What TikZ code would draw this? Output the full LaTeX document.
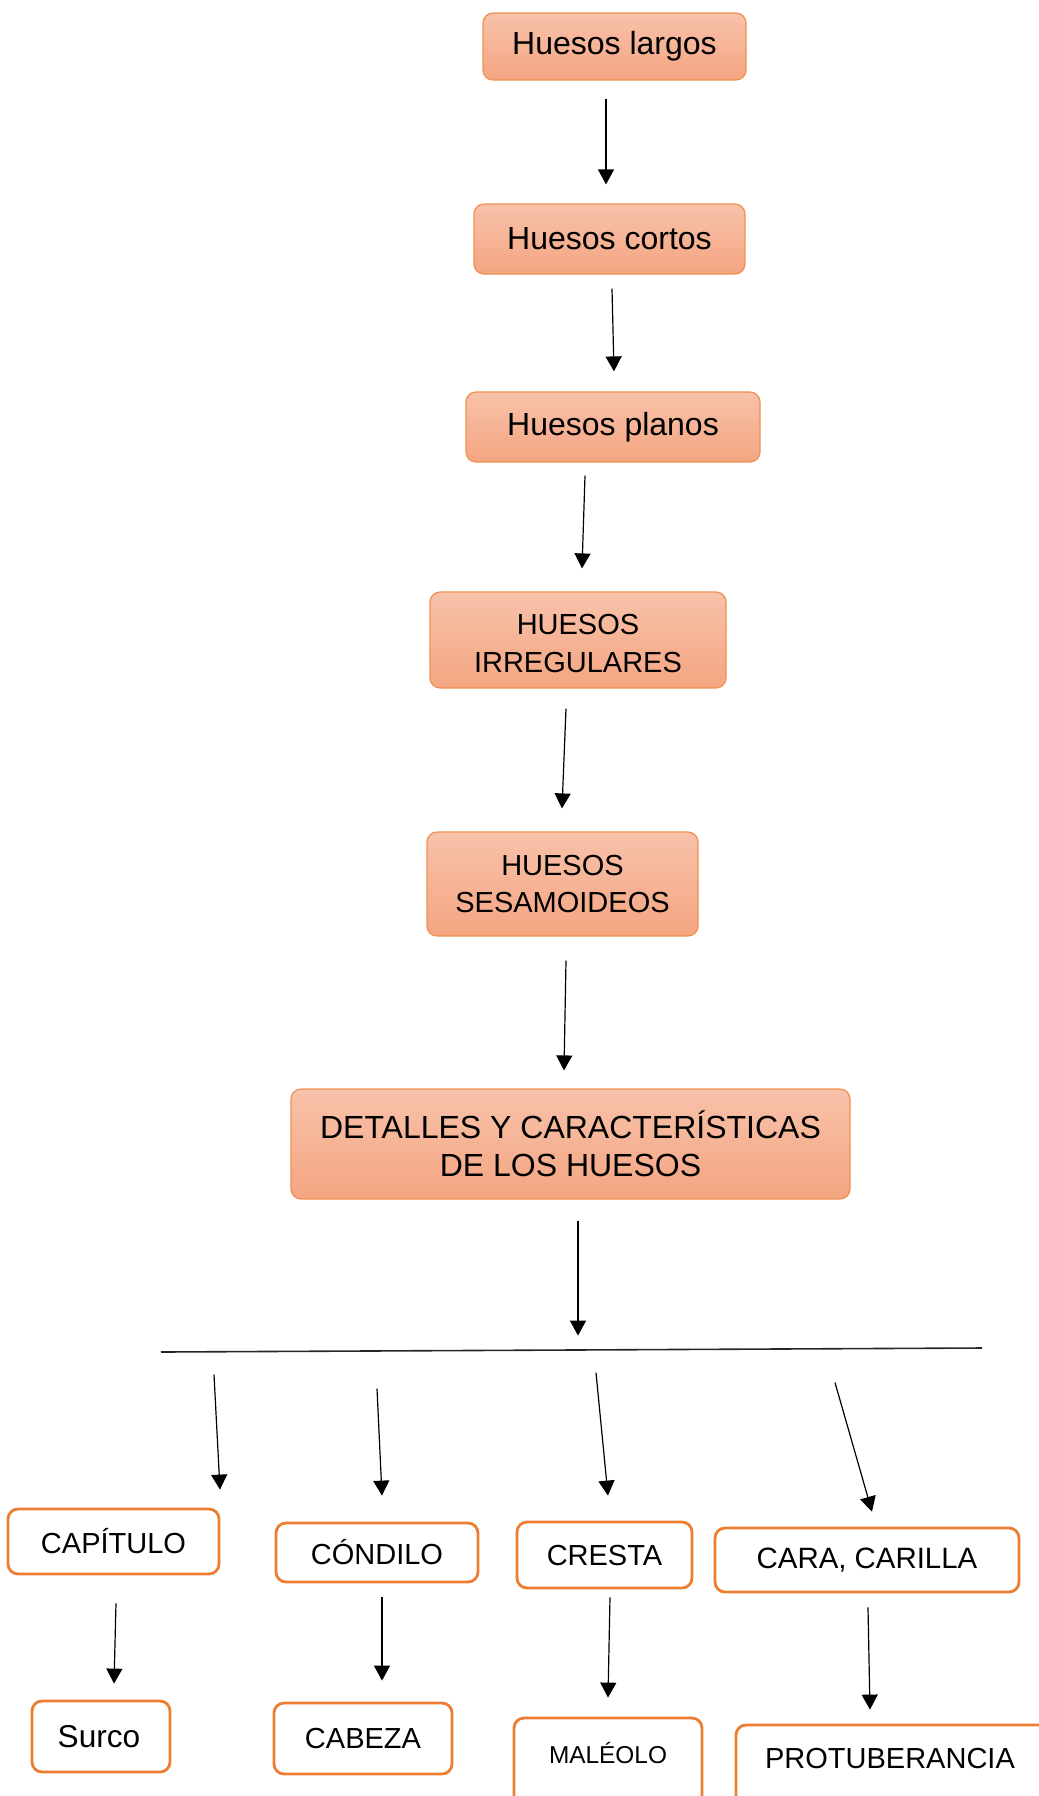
\documentclass[tikz,border=0pt]{standalone}
\usepackage{fontspec}
\setmainfont{Liberation Sans}
\usetikzlibrary{arrows.meta,calc}
\definecolor{obord}{HTML}{ED7D31}
\definecolor{ftop}{HTML}{F8C2AA}
\definecolor{fbot}{HTML}{F4A581}
\begin{document}
\begin{tikzpicture}[x=0.5pt,y=-0.5pt,
  topbox/.style={draw=obord!85, line width=0.6pt, rounded corners=5pt,
    top color=ftop, bottom color=fbot, inner sep=0pt, align=center,
    font=\fontsize{14.5}{19}\selectfont},
  bigtxt/.style={font=\fontsize{16}{19}\selectfont},
  botbox/.style={draw=obord, line width=1.4pt, rounded corners=5pt,
    fill=white, inner sep=0pt, align=center,
    font=\fontsize{14.5}{19}\selectfont},
  arr/.style={-{Triangle[length=7.5pt,width=8pt]}, line width=0.6pt, black},
  hline/.style={line width=0.8pt, black!85}]
\useasboundingbox (0,0) rectangle (1039,1796);

% top chain
\node[topbox,bigtxt,minimum width=131.5pt,minimum height=33.5pt] (hl) at (614.5,46.5) {Huesos largos};
\node[topbox,bigtxt,minimum width=135.5pt,minimum height=35pt] (hc) at (609.5,239) {Huesos cortos};
\node[topbox,bigtxt,minimum width=147pt,minimum height=35pt] (hp) at (613,427) {Huesos planos};
\node[topbox,minimum width=148pt,minimum height=48pt] (hi) at (578,640) {\raisebox{-1.75pt}[\height][\depth]{HUESOS}\\\raisebox{-1.75pt}[\height][\depth]{IRREGULARES}};
\node[topbox,minimum width=135.5pt,minimum height=52pt] (hs) at (562.5,884) {HUESOS\\SESAMOIDEOS};
\node[topbox,bigtxt,minimum width=279.5pt,minimum height=55pt] (det) at (570.5,1144) {DETALLES Y CARACTERÍSTICAS\\DE LOS HUESOS};

\draw[arr] ($(hl.south)+(-8.5,18)$) -- ($(hc.north)+(-3.5,-19)$);
\draw[arr] ($(hc.south)+(2.5,14)$) -- ($(hp.north)+(1,-20)$);
\draw[arr] ($(hp.south)+(-28,13)$) -- ($(hi.north)+(4,-23)$);
\draw[arr] ($(hi.south)+(-12,20)$) -- ($(hs.north)+(-0.5,-23)$);
\draw[arr] ($(hs.south)+(3.5,24)$) -- ($(det.north)+(-6.5,-18)$);

% horizontal line
\coordinate (L1) at (161,1352);
\coordinate (L2) at (982,1348);
\draw[hline] (L1) -- (L2);
\draw[arr] ($(det.south)+(7.5,21)$) -- ($(det.south)+(7.5,136)$);

% second level
\node[botbox,minimum width=105.5pt,minimum height=32.5pt] (cap) at (113.5,1541.5) {CAPÍTULO};
\node[botbox,minimum width=101pt,minimum height=29.5pt] (con) at (377,1552.5) {CÓNDILO};
\node[botbox,minimum width=87.5pt,minimum height=33pt] (cre) at (604.5,1555) {CRESTA};
\node[botbox,font=\fontsize{14.7}{19}\selectfont,minimum width=152pt,minimum height=32pt] (car) at (867,1560) {CARA, CARILLA};

\draw[arr] ($(cap.north)+(100.5,-133)$) -- ($(cap.north)+(106.5,-18)$);
\draw[arr] ($(con.north)+(0,-133)$) -- ($(con.north)+(5,-26)$);
\draw[arr] ($(cre.north)+(-8.5,-148)$) -- ($(cre.north)+(3.5,-25)$);
\draw[arr] ($(car.north)+(-32,-144)$) -- ($(car.north)+(5,-15)$);

% third level
\node[botbox,font=\fontsize{15.8}{19}\selectfont,minimum width=69pt,minimum height=35.5pt] (sur) at (101,1736.5) {\hspace*{-2pt}Surco};
\node[botbox,minimum width=89pt,minimum height=35.5pt] (cab) at (363,1738.5) {CABEZA};
\node[botbox,font=\fontsize{12.2}{15}\selectfont,minimum width=94pt,minimum height=44pt] (mal) at (608,1762) {\raisebox{4.5pt}[\height][\depth]{MALÉOLO}};
\node[botbox,minimum width=157pt,minimum height=42.5pt] (pro) at (893,1767.5) {\raisebox{4.75pt}[\height][\depth]{\hspace*{-3pt}PROTUBERANCIA}};

\draw[arr] ($(cap.south)+(2.5,28)$) -- ($(sur.north)+(13,-16)$);
\draw[arr] ($(con.south)+(5,14)$) -- ($(cab.north)+(19,-21)$);
\draw[arr] ($(cre.south)+(5.5,8)$) -- ($(mal.north)+(0,-19)$);
\draw[arr] ($(car.south)+(1,14)$) -- ($(pro.north)+(-23,-14)$);
\end{tikzpicture}
\end{document}
